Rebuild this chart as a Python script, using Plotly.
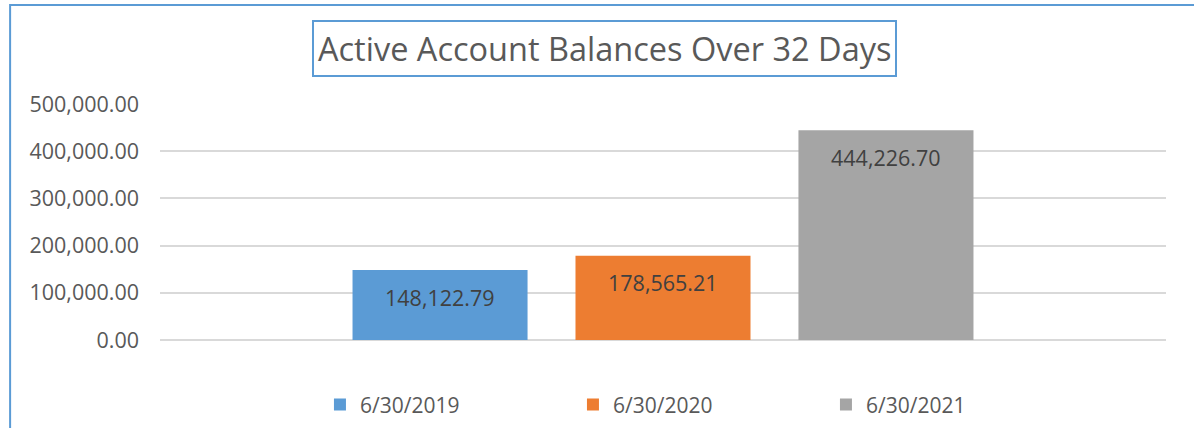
import plotly.graph_objects as go

series_names = ["6/30/2019", "6/30/2020", "6/30/2021"]
balances = [148122.79, 178565.21, 444226.70]
colors = ["#5B9BD5", "#ED7D31", "#A5A5A5"]
title_text = "Active Account Balances Over 32 Days"
y_ticks = [0, 100000, 200000, 300000, 400000, 500000]

FONT = "Open Sans"

fig = go.Figure()
for name, val, col in zip(series_names, balances, colors):
    fig.add_trace(go.Bar(
        x=[name], y=[val], name=name, marker=dict(color=col, line=dict(width=0)),
        hoverinfo="y",
    ))
    fig.add_annotation(
        x=name, y=val, xref="x", yref="y", text=f"{val:,.2f}",
        showarrow=False, yanchor="middle", yshift=-27,
        font=dict(family=FONT, size=21.5, color="#404040"),
    )

fig.add_annotation(
    text=title_text, xref="paper", yref="paper", x=0.442, y=1.235,
    xanchor="center", yanchor="middle", showarrow=False,
    font=dict(family=FONT, size=32.5, color="#595959"),
    bordercolor="#5B9BD5", borderwidth=2, borderpad=4, bgcolor="white",
)

fig.add_shape(type="rect", xref="paper", yref="paper",
              x0=-0.149, x1=1.3, y0=-1.0, y1=1.419,
              line=dict(color="#5B9BD5", width=2), layer="below")

fig.update_layout(
    width=1194, height=428,
    margin=dict(l=160, r=28, t=104, b=88, autoexpand=False),
    paper_bgcolor="white", plot_bgcolor="white",
    barmode="overlay", bargap=0.215,
    showlegend=True,
    legend=dict(orientation="h", x=0.159, y=-0.275, xanchor="left", yanchor="middle",
                entrywidth=208, entrywidthmode="pixels",
                font=dict(family=FONT, size=21, color="#595959"),
                traceorder="normal"),
    font=dict(family=FONT, color="#595959"),
)
fig.update_xaxes(type="category", categoryarray=series_names, range=[-1.256, 3.256],
                 showticklabels=False, showgrid=False, zeroline=False, showline=False)
fig.update_yaxes(range=[0, 500000], tickvals=y_ticks, tickformat=",.2f",
                 showgrid=True, gridcolor="#D9D9D9", gridwidth=1.5,
                 zeroline=True, zerolinecolor="#D9D9D9", zerolinewidth=1.5,
                 showline=False, ticks="", ticklabelstandoff=20,
                 tickfont=dict(family=FONT, size=21.5, color="#595959"))

fig.write_html("out.html")
